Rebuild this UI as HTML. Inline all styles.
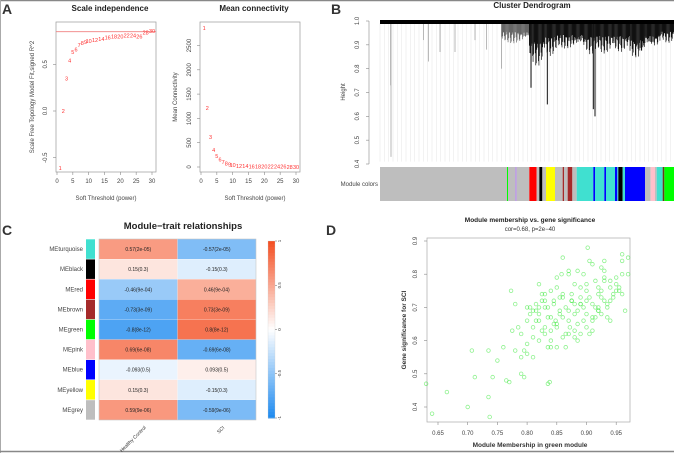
<!DOCTYPE html>
<html><head><meta charset="utf-8">
<style>
body{margin:0;background:#fff;}
svg{display:block;font-family:"Liberation Sans",Arial,sans-serif;}
.t{font-size:6px;fill:#444}
.ti{font-size:8px;font-weight:bold;fill:#222}
.pl{font-size:14px;font-weight:bold;fill:#333}
</style></head><body>
<svg id="fig" width="674" height="453" viewBox="0 0 674 453">
<line x1="0" y1="0.5" x2="674" y2="0.5" stroke="#888" stroke-width="1.5"/>
<line x1="0.5" y1="0" x2="0.5" y2="453" stroke="#aaa"/>
<line x1="0" y1="451.5" x2="674" y2="451.5" stroke="#888" stroke-width="1.5"/>
<text class="pl" x="2" y="14">A</text>
<text class="pl" x="331" y="14">B</text>
<text class="pl" x="2" y="235">C</text>
<text class="pl" x="326" y="235">D</text>
<g id="pa"></g><g id="pa2"></g><g id="pb"></g><g id="pc"></g><g id="pd"></g>
</svg>
<script>
// ---------- Panel A data ----------
const powers = [1,2,3,4,5,6,7,8,9,10,12,14,16,18,20,22,24,26,28,30];
const rsq = [-0.61,0.0,0.35,0.54,0.63,0.66,0.71,0.73,0.74,0.75,0.76,0.77,0.79,0.80,0.80,0.81,0.81,0.80,0.84,0.86];
const meanK = [2860,1210,620,350,230,150,100,70,50,40,25,18,14,11,9,8,7,6,5,5];
const rsqCut = [0.85];
const aXTicks = [0,5,10,15,20,25,30];
const aYTicks = [-0.5,0.0,0.5];
const kYTicks = [0,500,1000,1500,2000,2500];
// ---------- Panel B data ----------
const dendroY = [0.4,0.5,0.6,0.7,0.8,0.9,1.0];
const spikeLeaf = [32,33,130,145,180,225,285,320,365];
const spikeH = [0.73,0.43,0.92,0.83,0.87,0.87,0.92,0.88,0.80];
const clusterStart = [365,448,490,530,610,650,700,750,795,840];
const clusterEnd = [450,490,530,610,650,700,750,795,840,882];
const clusterDepth = [0.90,0.80,0.85,0.87,0.85,0.86,0.86,0.82,0.87,0.90];
const deepLeaf = [453,502,640,645];
const deepH = [0.72,0.65,0.63,0.60];
const segStart = [0,381,384,406,410,448,470,478,487,498,525,548,552,563,577,590,640,645,673,678,705,712,715,728,735,795,812,825,830,848,853];
const segEnd   = [381,384,406,410,448,470,478,487,498,525,548,552,563,577,590,640,645,673,678,705,712,715,728,735,795,812,825,830,848,853,882];
const segColor = ["#bebebe","#00ff00","#bebebe","#b48be8","#bebebe","#ff0000","#bebebe","#000000","#bebebe","#ffff00","#bebebe","#a52a2a","#bebebe","#a52a2a","#bebebe","#40e0d0","#0000ff","#40e0d0","#0000ff","#40e0d0","#0000ff","#40e0d0","#000000","#40e0d0","#0000ff","#bebebe","#ffc0cb","#bebebe","#40e0d0","#6b3a1a","#00ff00"];
// ---------- Panel C data ----------
const modules = ["MEturquoise","MEblack","MEred","MEbrown","MEgreen","MEpink","MEblue","MEyellow","MEgrey"];
const modColors = ["#40e0d0","#000000","#ff0000","#a52a2a","#00ff00","#ffc0cb","#0000ff","#ffff00","#bebebe"];
const traits = ["Healthy Control","SCI"];
const corHC = [0.57,0.15,-0.46,-0.73,-0.8,0.69,-0.093,0.15,0.59];
const corSCI = [-0.57,-0.15,0.46,0.73,0.8,-0.69,0.093,-0.15,-0.59];
const pvals = ["2e-05","0.3","9e-04","3e-09","8e-12","6e-08","0.5","0.3","9e-06"];
const legendTicks = [-1,-0.5,0,0.5,1];
// ---------- Panel D data ----------
const mmX = [0.63,0.64,0.665,0.70,0.707,0.712,0.735,0.737,0.735,0.742,0.75,0.76,0.765,0.77,0.773,0.775,0.78,0.78,0.785,0.79,0.79,0.795,0.835,0.838,
0.79,0.795,0.80,0.80,0.805,0.81,0.81,0.815,0.82,0.82,0.825,0.83,0.83,0.835,0.84,0.84,0.845,0.85,0.85,0.855,0.86,0.86,0.865,0.87,0.87,0.875,0.88,0.88,0.885,0.89,0.89,0.895,0.90,0.90,0.905,0.91,0.91,0.915,0.92,0.92,0.925,0.93,0.93,0.935,0.94,0.945,0.95,0.955,0.96,0.965,0.97,
0.80,0.805,0.81,0.815,0.82,0.825,0.83,0.835,0.84,0.845,0.85,0.855,0.86,0.865,0.87,0.875,0.88,0.885,0.89,0.895,0.90,0.905,0.91,0.915,0.92,0.925,0.93,0.935,0.94,0.95,0.96,
0.81,0.82,0.83,0.84,0.85,0.86,0.87,0.88,0.89,0.90,0.91,0.92,0.93,0.94,0.95,0.96,0.97,
0.80,0.815,0.825,0.835,0.845,0.855,0.865,0.875,0.885,0.895,0.905,0.915,0.925,0.935,0.945,0.955,
0.82,0.83,0.84,0.85,0.86,0.87,0.88,0.89,0.90,0.91,0.92,0.93,0.94,0.96,0.902,0.858,0.872,0.848,0.885,0.925];
const gsY = [0.47,0.38,0.445,0.40,0.57,0.49,0.43,0.37,0.57,0.49,0.54,0.58,0.48,0.475,0.75,0.63,0.71,0.57,0.64,0.55,0.50,0.49,0.47,0.475,
0.62,0.57,0.59,0.66,0.70,0.55,0.64,0.71,0.60,0.68,0.74,0.62,0.70,0.58,0.67,0.75,0.72,0.65,0.79,0.69,0.74,0.61,0.70,0.66,0.80,0.72,0.63,0.77,0.69,0.73,0.62,0.80,0.68,0.75,0.84,0.63,0.71,0.78,0.69,0.74,0.82,0.72,0.79,0.67,0.76,0.74,0.79,0.75,0.84,0.69,0.80,
0.56,0.68,0.61,0.69,0.66,0.72,0.64,0.67,0.60,0.71,0.58,0.73,0.67,0.62,0.69,0.74,0.71,0.65,0.76,0.70,0.64,0.73,0.67,0.70,0.76,0.68,0.81,0.71,0.72,0.77,0.74,
0.69,0.77,0.72,0.63,0.76,0.85,0.81,0.68,0.71,0.77,0.83,0.70,0.84,0.78,0.75,0.86,0.85,
0.70,0.66,0.63,0.70,0.65,0.68,0.58,0.72,0.60,0.66,0.62,0.67,0.73,0.70,0.73,0.76,
0.70,0.74,0.58,0.64,0.73,0.62,0.61,0.71,0.72,0.66,0.69,0.78,0.66,0.80,0.88,0.80,0.64,0.66,0.81,0.75];
const dXTicks = [0.65,0.70,0.75,0.80,0.85,0.90,0.95];
const dYTicks = [0.4,0.5,0.6,0.7,0.8,0.9];

const NS="http://www.w3.org/2000/svg";
function mk(parent,tag,attrs,text){const e=document.createElementNS(NS,tag);for(const k in attrs)e.setAttribute(k,attrs[k]);if(text!==undefined)e.textContent=text;parent.appendChild(e);return e;}

// ===== Panel A left =====
(function(){
const g=document.getElementById('pa');
const L=56,R=156,T=22,B=172;
const xA=p=>57+p/30*95, yA=v=>111-v*93.3;
let e=mk(g,'rect',{x:L,y:T,width:R-L,height:B-T,fill:'none',stroke:'#999','stroke-width':0.7});

e=mk(g,'text',{class:'ti',x:110,y:11,'text-anchor':'middle'},'Scale independence');

aXTicks.forEach(t=>{mk(g,'line',{x1:xA(t),x2:xA(t),y1:B,y2:B+3,stroke:'#888','stroke-width':0.6});
 e=mk(g,'text',{class:'t',x:xA(t),y:B+11,'text-anchor':'middle'},t);
 });
aYTicks.forEach(t=>{mk(g,'line',{x1:L,x2:L-3,y1:yA(t),y2:yA(t),stroke:'#888','stroke-width':0.6});
 e=mk(g,'text',{class:'t',x:47,y:yA(t),'text-anchor':'middle',transform:`rotate(-90 47 ${yA(t)})`},t.toFixed(1));
 });
e=mk(g,'text',{class:'t',x:106,y:200,'text-anchor':'middle'},'Soft Threshold (power)');

e=mk(g,'text',{class:'t',x:34,y:97,'text-anchor':'middle',transform:'rotate(-90 34 97)'},'Scale Free Topology Model Fit,signed R^2');

e=mk(g,'line',{x1:L,x2:R,y1:yA(rsqCut[0]),y2:yA(rsqCut[0]),stroke:'#f08080','stroke-width':0.8});

powers.forEach((p,i)=>{e=mk(g,'text',{x:xA(p),y:yA(rsq[i])+2,'text-anchor':'middle','font-size':'5.5px',fill:'#ff3030'},p);
 });
})();
// ===== Panel A right =====
(function(){
const g=document.getElementById('pa2');
const L=200,R=300,T=22,B=172;
const xK=p=>201+p/30*95, yK=v=>167-v/500*24.3;
let e=mk(g,'rect',{x:L,y:T,width:R-L,height:B-T,fill:'none',stroke:'#999','stroke-width':0.7});

e=mk(g,'text',{class:'ti',x:254,y:11,'text-anchor':'middle'},'Mean connectivity');

aXTicks.forEach(t=>{mk(g,'line',{x1:xK(t),x2:xK(t),y1:B,y2:B+3,stroke:'#888','stroke-width':0.6});
 e=mk(g,'text',{class:'t',x:xK(t),y:B+11,'text-anchor':'middle'},t);
 });
kYTicks.forEach(t=>{mk(g,'line',{x1:L,x2:L-3,y1:yK(t),y2:yK(t),stroke:'#888','stroke-width':0.6});
 e=mk(g,'text',{class:'t',x:191,y:yK(t),'text-anchor':'middle',transform:`rotate(-90 191 ${yK(t)})`},t);
 });
e=mk(g,'text',{class:'t',x:255,y:200,'text-anchor':'middle'},'Soft Threshold (power)');

e=mk(g,'text',{class:'t',x:177,y:97,'text-anchor':'middle',transform:'rotate(-90 177 97)'},'Mean Connectivity');

powers.forEach((p,i)=>{e=mk(g,'text',{x:xK(p),y:yK(meanK[i])+2,'text-anchor':'middle','font-size':'5.5px',fill:'#ff3030'},p);
 });
})();
// ===== Panel B =====
(function(){
const g=document.getElementById('pb');
const X0=380,X1=674,N=882;
const xL=i=>X0+i/N*(X1-X0), yH=h=>21+(1-h)/0.6*143;
let e=mk(g,'text',{class:'ti',x:532,y:8,'text-anchor':'middle'},'Cluster Dendrogram');

e=mk(g,'line',{x1:369,x2:369,y1:yH(1),y2:yH(0.4),stroke:'#888','stroke-width':0.6});
dendroY.forEach(t=>{mk(g,'line',{x1:366,x2:369,y1:yH(t),y2:yH(t),stroke:'#888','stroke-width':0.6});
 e=mk(g,'text',{class:'t',x:359,y:yH(t),'text-anchor':'middle',transform:`rotate(-90 359 ${yH(t)})`},t.toFixed(1));
 });
e=mk(g,'text',{class:'t',x:345,y:92,'text-anchor':'middle',transform:'rotate(-90 345 92)'},'Height');

for(let i=0;i<N;i+=13){mk(g,'line',{x1:xL(i),x2:xL(i),y1:yH(0.99),y2:yH(0.41),stroke:'#e4e4e4','stroke-width':0.5});}
spikeLeaf.forEach((l,i)=>{e=mk(g,'line',{x1:xL(l),x2:xL(l),y1:yH(1),y2:yH(spikeH[i]),stroke:'#999','stroke-width':0.7});
 });
clusterStart.forEach((s,i)=>{
 for(let l=s;l<clusterEnd[i];l+=1.6){const f=(l-s)/(clusterEnd[i]-s);
  const r=Math.abs(Math.sin(l*2.31))*Math.abs(Math.sin(l*0.37+1))*(0.5+0.5*Math.sin(f*Math.PI));
  const h=1-(1-clusterDepth[i])*(0.45+0.55*r);
  mk(g,'line',{x1:xL(l),x2:xL(l),y1:yH(1),y2:yH(h),stroke:i===0?'#666':'#111','stroke-width':0.7});}
 e=mk(g,'rect',{x:xL(s),y:yH(1),width:xL(clusterEnd[i])-xL(s),height:0.1,fill:'none'});
 });
deepLeaf.forEach((l,i)=>{e=mk(g,'line',{x1:xL(l),x2:xL(l),y1:yH(1),y2:yH(deepH[i]),stroke:'#111','stroke-width':1});
 });
e=mk(g,'rect',{x:X0,y:yH(1)-1,width:X1-X0,height:4,fill:'#000'});

segStart.forEach((s,i)=>{e=mk(g,'rect',{x:xL(s),y:167,width:Math.max(0.8,xL(segEnd[i])-xL(s)),height:34,fill:segColor[i]});
 });
e=mk(g,'text',{class:'t',x:378,y:186,'text-anchor':'end'},'Module colors');

})();
// ===== Panel C =====
(function(){
const g=document.getElementById('pc');
const HX=99,HW=157,HY=239,HH=181,rh=HH/modules.length,cw=HW/2;
function col(v){const a=Math.min(1,Math.abs(v));const c=v<0?[33,140,240]:[244,80,36];
 return `rgb(${Math.round(255+(c[0]-255)*a)},${Math.round(255+(c[1]-255)*a)},${Math.round(255+(c[2]-255)*a)})`;}
let e=mk(g,'text',{x:183,y:229,'text-anchor':'middle','font-size':'9.5px','font-weight':'bold',fill:'#222'},'Module\u2212trait relationships');

modules.forEach((m,i)=>{const y=HY+i*rh;
 e=mk(g,'rect',{x:86,y:y+0.3,width:9,height:rh-0.6,fill:modColors[i]});
 
 e=mk(g,'text',{class:'t',x:83,y:y+rh/2+2,'text-anchor':'end','font-size':'5.5px',fill:'#333'},m);
 
 [corHC[i],corSCI[i]].forEach((v,j)=>{
  e=mk(g,'rect',{x:HX+j*cw,y:y,width:cw,height:rh,fill:col(v),stroke:'#fff','stroke-width':0.2});
  
  e=mk(g,'text',{x:HX+j*cw+cw/2,y:y+rh/2+2,'text-anchor':'middle','font-size':'5px',fill:'#222'},`${v}(${pvals[i]})`);
  });});
mk(g,'rect',{x:HX,y:HY,width:HW,height:HH,fill:'none',stroke:'#bbb','stroke-width':0.5});
traits.forEach((t,j)=>{const x=HX+j*cw+cw/2+8,y=HY+HH+8;
 e=mk(g,'text',{x:x,y:y,'text-anchor':'end','font-size':'5px',fill:'#333',transform:`rotate(-45 ${x} ${y})`},t);
 });
const LY0=241,LY1=418;
for(let k=0;k<60;k++){const v=1-2*k/59;mk(g,'rect',{x:268,y:LY0+k*(LY1-LY0)/60,width:7,height:(LY1-LY0)/60+0.5,fill:col(v)});}
e=mk(g,'rect',{x:268,y:LY0,width:7,height:LY1-LY0,fill:'none',stroke:'#ccc','stroke-width':0.3});

legendTicks.forEach(t=>{const y=LY0+(1-t)/2*(LY1-LY0);
 mk(g,'line',{x1:275,x2:277,y1:y,y2:y,stroke:'#666','stroke-width':0.5});
 e=mk(g,'text',{x:281,y:y,'text-anchor':'middle','font-size':'4.5px',fill:'#444',transform:`rotate(-90 281 ${y})`},t);
 });
})();
// ===== Panel D =====
(function(){
const g=document.getElementById('pd');
const L=427,R=630,T=238,B=422;
const xD=v=>438+(v-0.65)/0.05*29.7, yD=v=>241+(0.9-v)/0.1*33.2;
let e=mk(g,'text',{x:530,y:222,'text-anchor':'middle','font-size':'6.5px','font-weight':'bold',fill:'#222'},'Module membership vs. gene significance');

e=mk(g,'text',{x:530,y:231,'text-anchor':'middle','font-size':'6px',fill:'#333'},'cor=0.68, p=2e\u221240');

e=mk(g,'rect',{x:L,y:T,width:R-L,height:B-T,fill:'none',stroke:'#aaa','stroke-width':0.7});

dXTicks.forEach(t=>{mk(g,'line',{x1:xD(t),x2:xD(t),y1:B,y2:B+3,stroke:'#888','stroke-width':0.6});
 e=mk(g,'text',{class:'t',x:xD(t),y:435,'text-anchor':'middle'},t.toFixed(2));
 });
dYTicks.forEach(t=>{mk(g,'line',{x1:L,x2:L-3,y1:yD(t),y2:yD(t),stroke:'#888','stroke-width':0.6});
 e=mk(g,'text',{class:'t',x:417,y:yD(t),'text-anchor':'middle',transform:`rotate(-90 417 ${yD(t)})`},t.toFixed(1));
 });
e=mk(g,'text',{x:530,y:447,'text-anchor':'middle','font-size':'6.5px','font-weight':'bold',fill:'#333'},'Module Membership in green module');

e=mk(g,'text',{x:406,y:330,'text-anchor':'middle','font-size':'6.5px','font-weight':'bold',fill:'#333',transform:'rotate(-90 406 330)'},'Gene significance for  SCI');

mmX.forEach((x,i)=>{e=mk(g,'circle',{cx:xD(x),cy:yD(gsY[i]),r:1.8,fill:'none',stroke:'#33e833','stroke-width':0.8,'stroke-opacity':0.55});
 });
})();
</script>
</body></html>
